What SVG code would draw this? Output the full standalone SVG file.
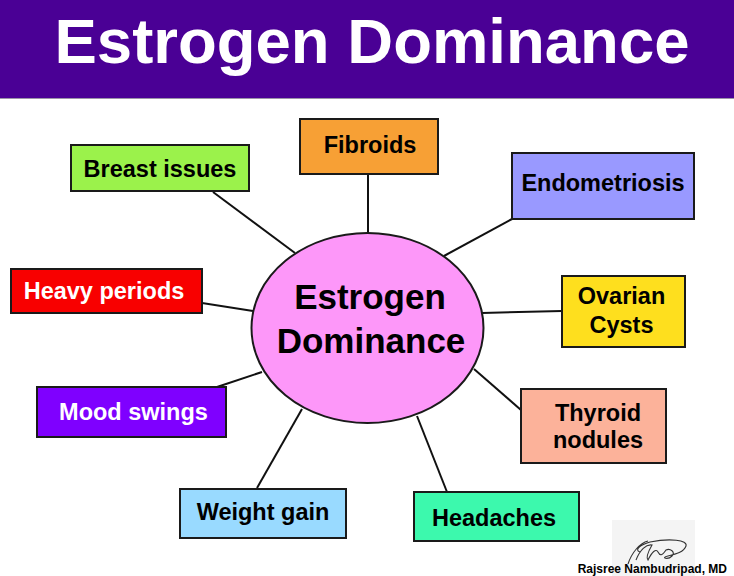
<svg xmlns="http://www.w3.org/2000/svg" width="734" height="576" viewBox="0 0 734 576">
<style>
.box{stroke:#1a1a1a;stroke-width:2}
.lbl{font-family:"Liberation Sans",Arial,Helvetica,sans-serif;font-weight:bold;font-size:23.5px;text-anchor:middle;fill:#000}
.big{font-size:35px}
.w{fill:#fff}
.conn line{stroke:#111;stroke-width:2}
</style>
<rect x="0" y="0" width="734" height="576" fill="#fff"/>
<g id="header">
<rect x="0" y="0" width="734" height="98" fill="#4A0095"/>
<line x1="0" y1="98.5" x2="734" y2="98.5" stroke="#9a94a8" stroke-width="1"/>
<text x="372" y="63" font-family="'Liberation Sans',Arial,Helvetica,sans-serif" font-weight="bold" font-size="63" fill="#fff" text-anchor="middle" textLength="635" lengthAdjust="spacingAndGlyphs">Estrogen Dominance</text>
</g>
<g id="connectors" class="conn">
<line x1="213" y1="192" x2="295" y2="253"/>
<line x1="368" y1="174" x2="368" y2="233"/>
<line x1="512" y1="219" x2="444" y2="256"/>
<line x1="482" y1="313" x2="562" y2="311"/>
<line x1="202" y1="303" x2="253" y2="311"/>
<line x1="217" y1="387" x2="262" y2="372"/>
<line x1="257" y1="488" x2="302" y2="409"/>
<line x1="474" y1="369" x2="521" y2="410"/>
<line x1="417" y1="416" x2="447" y2="492"/>
</g>
<g id="center">
<ellipse cx="367.5" cy="328" rx="116" ry="95" fill="#FD97F9" stroke="#1a1a1a" stroke-width="2"/>
<text class="lbl big" x="370" y="309">Estrogen</text>
<text class="lbl big" x="371" y="353">Dominance</text>
</g>
<g id="breast">
<rect class="box" x="71" y="145" width="178" height="46" fill="#9BF24B"/>
<text class="lbl" x="160" y="177">Breast issues</text>
</g>
<g id="fibroids">
<rect class="box" x="300" y="119" width="138" height="55" fill="#F7A035"/>
<text class="lbl" x="370" y="153">Fibroids</text>
</g>
<g id="endometriosis">
<rect class="box" x="512" y="153" width="182" height="66" fill="#9999FF"/>
<text class="lbl" x="603" y="191">Endometriosis</text>
</g>
<g id="ovarian">
<rect class="box" x="562" y="276" width="123" height="71" fill="#FEDF1E"/>
<text class="lbl" x="621.5" y="304">Ovarian</text>
<text class="lbl" x="621.5" y="333">Cysts</text>
</g>
<g id="heavy">
<rect class="box" x="11" y="269" width="191" height="44" fill="#F80000"/>
<text class="lbl w" x="104" y="299">Heavy periods</text>
</g>
<g id="mood">
<rect class="box" x="37" y="387" width="189" height="50" fill="#7F00FF"/>
<text class="lbl w" x="133.5" y="420">Mood swings</text>
</g>
<g id="weight">
<rect class="box" x="180" y="489" width="166" height="49" fill="#99DAFF"/>
<text class="lbl" x="263" y="520">Weight gain</text>
</g>
<g id="thyroid">
<rect class="box" x="521" y="389" width="145" height="74" fill="#FCB29A"/>
<text class="lbl" x="598" y="421">Thyroid</text>
<text class="lbl" x="598" y="448">nodules</text>
</g>
<g id="headaches">
<rect class="box" x="414" y="492" width="165" height="49" fill="#3CF9AD"/>
<text class="lbl" x="494" y="526">Headaches</text>
</g>
<g id="signature">
<rect x="612" y="520" width="83" height="56" fill="#F4F4F4"/>
<path d="M628 564 C632 552 640 543 648 541 M636 560 C640 550 646 544 652 545 C648 552 646 558 648 560 C652 552 656 548 658 552 C660 556 662 556 666 550 C670 548 676 552 672 556 C668 560 660 558 668 556 C676 554 684 552 686 546 C688 540 670 538 650 542 C640 545 634 550 640 552" fill="none" stroke="#333" stroke-width="1.1"/>
<text x="727" y="573" font-family="'Liberation Sans',Arial,Helvetica,sans-serif" font-weight="bold" font-size="12" fill="#000" text-anchor="end">Rajsree Nambudripad, MD</text>
</g>
</svg>
